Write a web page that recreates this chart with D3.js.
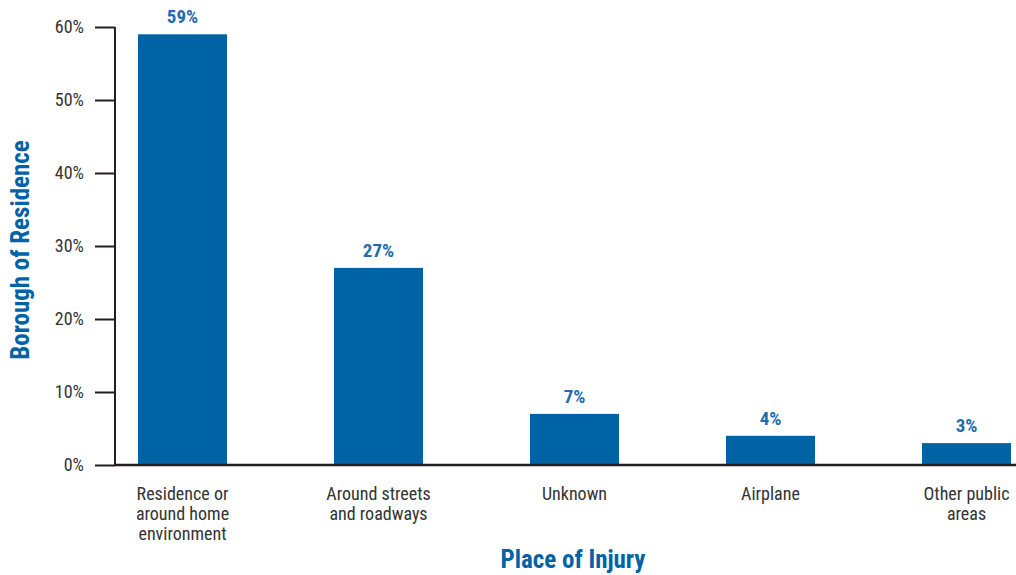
<!DOCTYPE html>
<html>
<head>
<meta charset="utf-8">
<script src="https://cdn.jsdelivr.net/npm/d3@7"></script>
<style>
  body { margin: 0; background: #fff; }
  text { font-family: "Liberation Sans Narrow", "Roboto Condensed", "DejaVu Sans Condensed", "Liberation Sans", sans-serif; }
</style>
</head>
<body>
<div id="chart"></div>
<script>
// Chart data
var categories = [
  ["Residence or", "around home", "environment"],
  ["Around streets", "and roadways"],
  ["Unknown"],
  ["Airplane"],
  ["Other public", "areas"]
];
var values = [59, 27, 7, 4, 3];
var yTicks = [0, 10, 20, 30, 40, 50, 60];

var width = 1016, height = 575;
var blue = "#0063a6";

var svg = d3.select("#chart")
  .append("svg")
  .attr("width", width)
  .attr("height", height);

// Scales
var x = d3.scaleBand()
  .domain(d3.range(values.length))
  .range([84.5, 1064.5])
  .paddingInner(0.546)
  .paddingOuter(0.273);

var y = d3.scaleLinear()
  .domain([0, 60])
  .range([465, 27]);

// Bars
svg.selectAll("rect.bar")
  .data(values)
  .enter()
  .append("rect")
    .attr("class", "bar")
    .attr("x", (d, i) => x(i))
    .attr("y", d => y(d))
    .attr("width", x.bandwidth())
    .attr("height", d => y(0) - y(d))
    .attr("fill", blue);

// Value labels
svg.selectAll("text.val")
  .data(values)
  .enter()
  .append("text")
    .attr("class", "val")
    .attr("x", (d, i) => x(i) + x.bandwidth() / 2)
    .attr("y", d => y(d) - 11)
    .attr("text-anchor", "middle")
    .attr("font-size", 19)
    .attr("font-weight", "bold")
    .attr("fill", "#1f6db0")
    .text(d => d + "%");

// Y axis
svg.append("g")
  .attr("transform", "translate(115,0)")
  .call(d3.axisLeft(y)
    .tickValues(yTicks)
    .tickSize(20)
    .tickPadding(11)
    .tickFormat(d => d + "%"))
  .call(g => g.select(".domain").attr("stroke", "#231f20").attr("stroke-width", 2)
      .attr("d", "M0," + y(60) + "V" + y(0)))
  .call(g => g.selectAll(".tick line").attr("stroke", "#231f20").attr("stroke-width", 2))
  .call(g => g.selectAll(".tick text")
      .attr("font-size", 18)
      .attr("fill", "#333")
      .attr("font-family", null));

// X baseline
svg.append("line")
  .attr("x1", 114)
  .attr("x2", width)
  .attr("y1", y(0))
  .attr("y2", y(0))
  .attr("stroke", "#231f20")
  .attr("stroke-width", 2.5);

// Category labels
var cat = svg.selectAll("text.cat")
  .data(categories)
  .enter()
  .append("text")
    .attr("class", "cat")
    .attr("text-anchor", "middle")
    .attr("font-size", 18)
    .attr("fill", "#333");
cat.selectAll("tspan")
  .data((d, i) => d.map(s => ({s: s, i: i})))
  .enter()
  .append("tspan")
    .attr("x", d => x(d.i) + x.bandwidth() / 2)
    .attr("y", (d, j) => 500 + j * 20)
    .text(d => d.s);

// Axis titles
svg.append("text")
  .attr("x", 573)
  .attr("y", 568)
  .attr("text-anchor", "middle")
  .attr("font-size", 25)
  .attr("font-weight", "bold")
  .attr("fill", blue)
  .text("Place of Injury");

svg.append("text")
  .attr("transform", "translate(29,250) rotate(-90)")
  .attr("text-anchor", "middle")
  .attr("font-size", 25)
  .attr("font-weight", "bold")
  .attr("fill", blue)
  .text("Borough of Residence");
</script>
</body>
</html>
